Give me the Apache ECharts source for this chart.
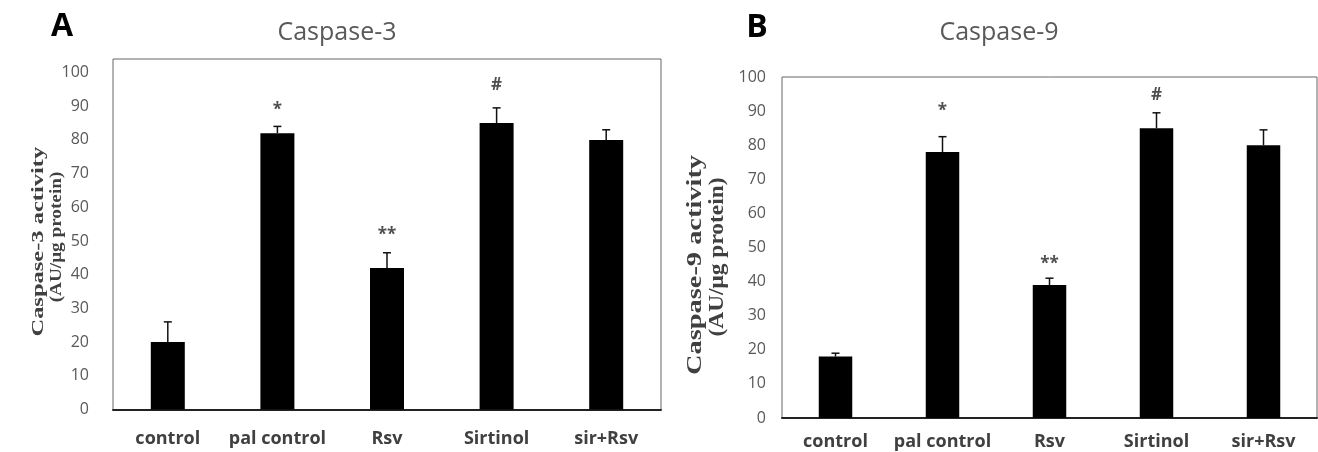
<!DOCTYPE html>
<html>
<head>
<meta charset="utf-8">
<script src="https://cdn.jsdelivr.net/npm/echarts@6/dist/echarts.min.js"></script>
<style>
html,body{margin:0;padding:0;background:#fff;}
#chart{width:1318px;height:452px;}
</style>
</head>
<body>
<div id="chart"></div>
<script>
// ---- data ----
const categories = ['control', 'pal control', 'Rsv', 'Sirtinol', 'sir+Rsv'];

const casp3Values = [20, 82, 42, 85, 80];
const casp3Errors = [6, 2, 4.5, 4.5, 3];
const casp3Marks  = ['', '*', '**', '#', ''];
const casp3MarkY  = [null, 88.8, 51.6, 96.3, null];

const casp9Values = [18, 78, 39, 85, 80];
const casp9Errors = [1, 4.5, 2, 4.5, 4.5];
const casp9Marks  = ['', '*', '**', '#', ''];
const casp9MarkY  = [null, 89.9, 45, 94.6, null];

const yTickLabels = ['0', '10', '20', '30', '40', '50', '60', '70', '80', '90', '100'];

// ---- chart ----
const chart = echarts.init(document.getElementById('chart'), null, {renderer: 'canvas'});

function errorSeries(idx, values, errors) {
  return {
    type: 'custom',
    xAxisIndex: idx, yAxisIndex: idx,
    silent: true, z: 5,
    data: values.map((v, i) => [i, v, errors[i]]),
    encode: {x: 0, y: 1},
    renderItem: function (params, api) {
      const x = api.value(0), v = api.value(1), e = api.value(2);
      const base = api.coord([x, v]);
      const top = api.coord([x, v + e]);
      const half = 4;
      const st = {stroke: '#111', lineWidth: 1.5};
      return {
        type: 'group',
        children: [
          {type: 'line', shape: {x1: base[0], y1: base[1], x2: top[0], y2: top[1]}, style: st},
          {type: 'line', shape: {x1: top[0] - half, y1: top[1], x2: top[0] + half, y2: top[1]}, style: st}
        ]
      };
    }
  };
}

function markSeries(idx, marks, ys) {
  const data = [];
  marks.forEach((m, i) => { if (m) data.push({value: [i, ys[i]], name: m}); });
  return {
    type: 'scatter',
    xAxisIndex: idx, yAxisIndex: idx,
    silent: true, symbolSize: 0, z: 6,
    data: data,
    label: {
      show: true, position: 'inside', formatter: '{b}',
      color: '#222', fontFamily: 'Open Sans', fontSize: 17, fontWeight: 'bold'
    }
  };
}

function xAxisCfg(idx, margin) {
  return {
    type: 'category', gridIndex: idx, data: categories,
    axisTick: {show: false},
    axisLine: {lineStyle: {color: '#222', width: 2}},
    axisLabel: {
      margin: margin, color: '#404040', fontFamily: 'Open Sans',
      fontSize: 18, fontWeight: 'bold', interval: 0
    }
  };
}

function yAxisCfg(idx, max, margin) {
  return {
    type: 'value', gridIndex: idx, min: 0, max: max, interval: 10,
    axisLine: {show: false}, axisTick: {show: false}, splitLine: {show: false},
    axisLabel: {
      margin: margin, color: '#595959', fontFamily: 'Open Sans', fontSize: 16,
      showMaxLabel: max === 100,
      formatter: function (v) { return yTickLabels[Math.round(v / 10)] || ''; }
    }
  };
}

function yTitle(x, y, text, size, sx) {
  return {
    type: 'text', x: x, y: y, rotation: Math.PI / 2, scaleX: sx, scaleY: 1, silent: true,
    style: {
      text: text, fill: '#404040',
      font: 'bold ' + size + 'px "Liberation Serif", "DejaVu Serif", serif',
      align: 'center', verticalAlign: 'middle',
      textAlign: 'center', textVerticalAlign: 'middle'
    }
  };
}

function freeText(x, y, text, font, fill) {
  return {
    type: 'text', x: x, y: y, silent: true,
    style: {
      text: text, fill: fill, font: font,
      align: 'center', verticalAlign: 'middle',
      textAlign: 'center', textVerticalAlign: 'middle'
    }
  };
}

const option = {
  animation: false,
  backgroundColor: '#fff',
  grid: [
    {left: 113, top: 59, width: 548, height: 350.5, show: true, borderColor: '#666', borderWidth: 1, backgroundColor: 'transparent'},
    {left: 782, top: 77, width: 535, height: 341, show: true, borderColor: '#666', borderWidth: 1, backgroundColor: 'transparent'}
  ],
  xAxis: [xAxisCfg(0, 20), xAxisCfg(1, 15)],
  yAxis: [yAxisCfg(0, 104, 24), yAxisCfg(1, 100, 16)],
  series: [
    {type: 'bar', xAxisIndex: 0, yAxisIndex: 0, data: casp3Values, barWidth: 34, itemStyle: {color: '#000'}, silent: true},
    errorSeries(0, casp3Values, casp3Errors),
    markSeries(0, casp3Marks, casp3MarkY),
    {type: 'bar', xAxisIndex: 1, yAxisIndex: 1, data: casp9Values, barWidth: 33.5, itemStyle: {color: '#000'}, silent: true},
    errorSeries(1, casp9Values, casp9Errors),
    markSeries(1, casp9Marks, casp9MarkY)
  ],
  graphic: [
    freeText(62, 27, 'A', 'bold 32px "Open Sans", sans-serif', '#000'),
    freeText(757, 28, 'B', 'bold 32px "Open Sans", sans-serif', '#000'),
    freeText(337, 33, 'Caspase-3', '25px "Open Sans", sans-serif', '#595959'),
    freeText(999, 33, 'Caspase-9', '25px "Open Sans", sans-serif', '#595959'),
    yTitle(39, 241.7, 'Caspase-3 activity', 17, 1.44),
    yTitle(57, 237, '(AU/μg protein)', 17, 1.13),
    yTitle(696, 265, 'Caspase-9 activity', 20, 1.42),
    yTitle(718, 257, '(AU/μg protein)', 20, 1.17)
  ]
};
chart.setOption(option);
</script>
</body>
</html>
